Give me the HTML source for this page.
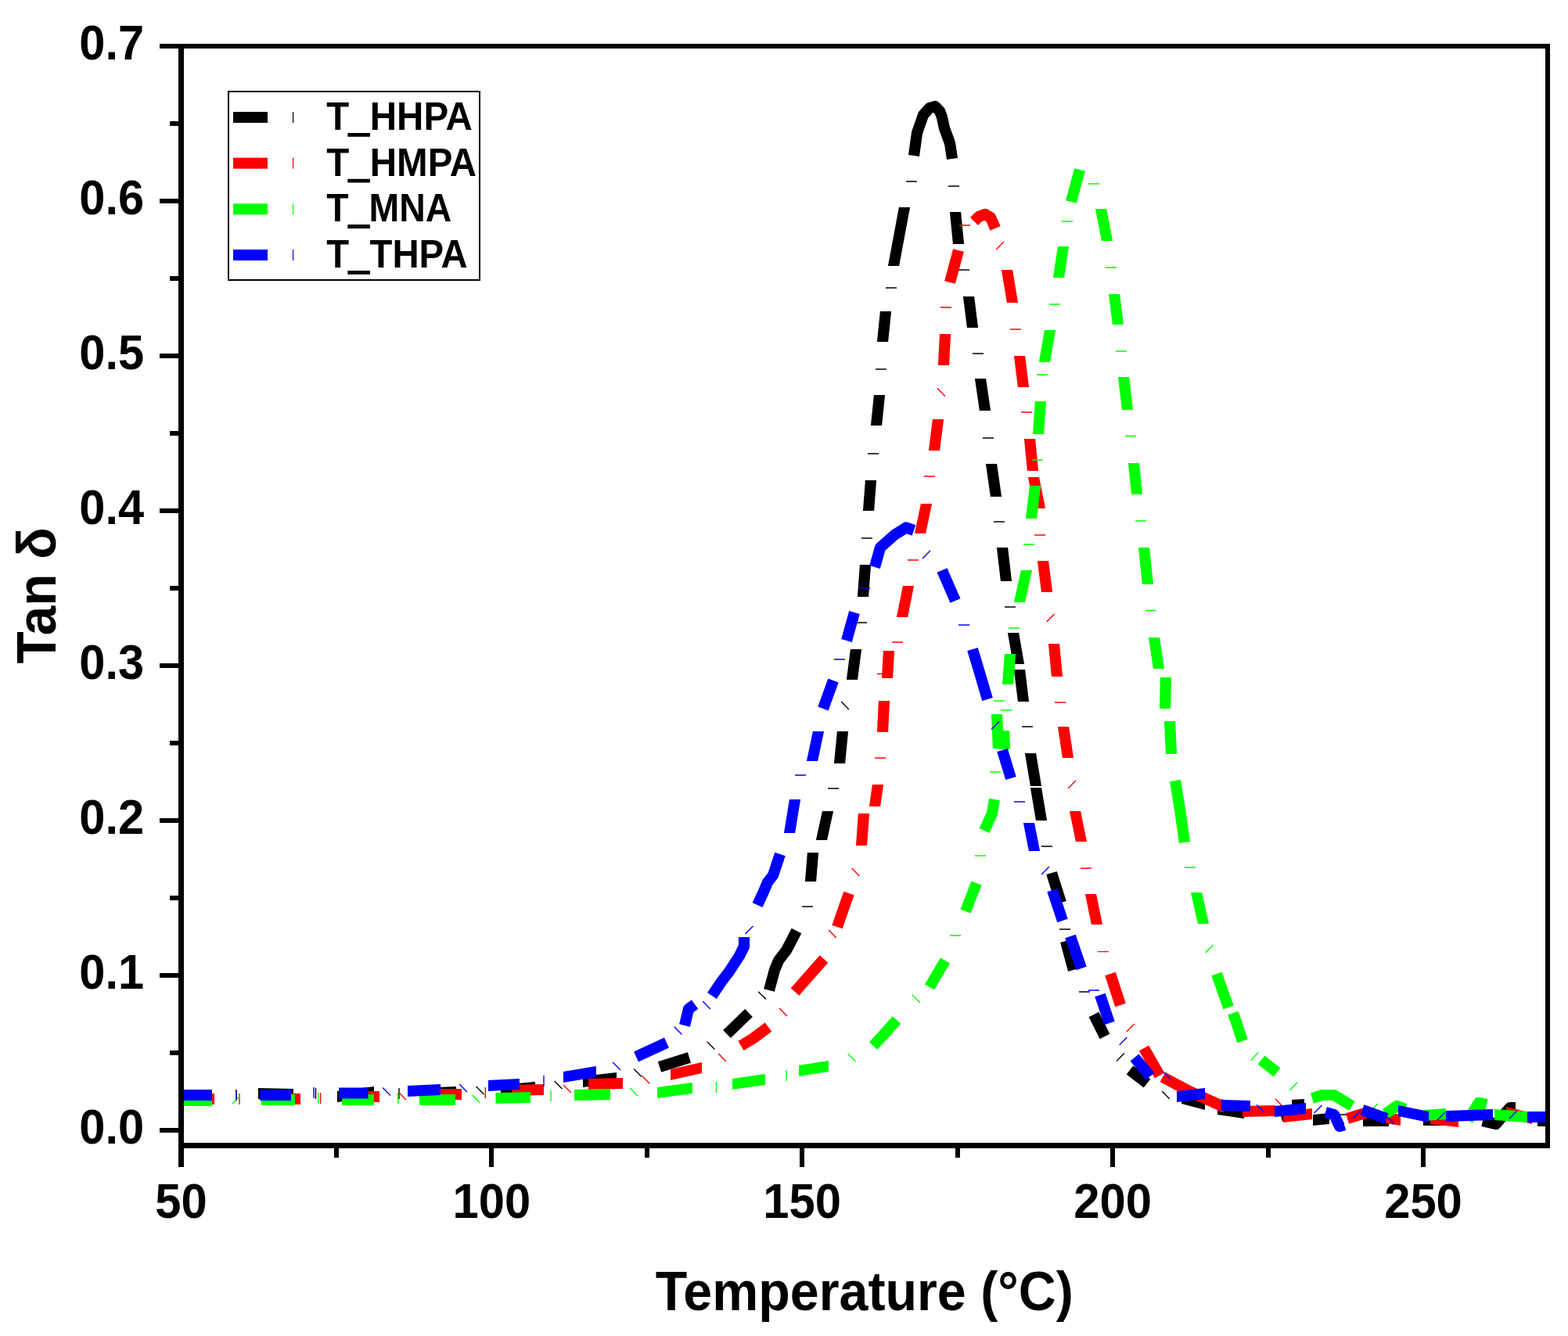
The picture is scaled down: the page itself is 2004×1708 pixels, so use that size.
<!DOCTYPE html>
<html><head><meta charset="utf-8"><title>Tan delta vs Temperature</title>
<style>html,body{margin:0;padding:0;background:#fff;}svg{display:block;}</style>
</head><body>
<svg width="2004" height="1708" viewBox="0 0 2004 1708">
<rect width="100%" height="100%" fill="#fff"/>
<defs><clipPath id="pc"><rect x="235" y="62" width="1740" height="1399"/></clipPath></defs>
<g clip-path="url(#pc)">
<path d="M222 1392.9L222 1407.1L271 1407.1L271 1392.9ZM330 1390.9L330 1405.1L375 1406.1L375 1391.9ZM431 1394.9L431 1409.1L478 1403.1L478 1388.9ZM539 1390.9L539 1405.1L583 1403.1L583 1388.9ZM640 1386.9L640 1401.1L684 1397.1L684 1382.9ZM745 1375.9L745 1390.1L788 1385.1L788 1370.9ZM845.1 1370.8L840.9 1357.2L878.9 1345.2L883.1 1358.8ZM933.9 1327.1L924.1 1316.9L952.1 1289.9L961.9 1300.1ZM1028.9 1127L1043.1 1127L1046.1 1090L1031.9 1090ZM1042.9 1074L1057.1 1074L1065.1 1037L1050.9 1037ZM1065.9 976L1080.1 976L1084.1 935L1069.9 935ZM1081.9 869L1096.1 869L1101.1 830L1086.9 830ZM1095.9 763L1110.1 763L1113.1 722L1098.9 722ZM1102.9 653L1117.1 653L1120.1 614L1105.9 614ZM1112.9 544L1127.1 544L1131.1 505L1116.9 505ZM1120.9 437L1135.1 437L1139.1 398L1124.9 398ZM1134.9 340L1149.1 340L1163.1 265L1148.9 265ZM1213.9 271L1228.1 271L1232.1 312L1217.9 312ZM1230.9 379L1245.1 379L1250.1 419L1235.9 419ZM1245.9 484L1260.1 484L1266.1 525L1251.9 525ZM1259.9 593L1274.1 593L1280.1 635L1265.9 635ZM1273.9 700L1288.1 700L1293.1 743L1278.9 743ZM1287.9 809L1302.1 809L1309.1 849L1294.9 849ZM1295.9 856L1310.1 856L1315.1 897L1300.9 897ZM1309.9 963L1324.1 963L1331.1 1005L1316.9 1005ZM1316.9 1007L1331.1 1007L1338.1 1049L1323.9 1049ZM1337.2 1118.1L1350.8 1113.9L1362.8 1151.9L1349.2 1156.1ZM1355.1 1204.9L1368.9 1201.1L1378.9 1238.1L1365.1 1241.9ZM1391.6 1300.2L1404.4 1293.8L1418.4 1321.8L1405.6 1328.2ZM1439.7 1373.6L1448.3 1362.4L1470.3 1379.4L1461.7 1390.6ZM1510 1396.9L1510 1411.1L1540 1419.1L1540 1404.9ZM1556 1410.9L1556 1425.1L1590 1430.1L1590 1415.9ZM1639 1433.8L1635 1420.2L1666 1411.2L1670 1424.8ZM1651 1405.9L1651 1420.1L1667 1419.1L1667 1404.9ZM1678 1424.9L1678 1439.1L1699 1437.1L1699 1422.9ZM1742 1425.9L1742 1440.1L1775 1440.1L1775 1425.9ZM1819 1424.9L1819 1439.1L1848 1439.1L1848 1424.9ZM1965 1425.9L1965 1440.1L1985 1440.1L1985 1425.9Z" fill="#000000"/>
<path d="M983 1266 990 1240 995 1228 1005 1215 1018 1190M1168 199 1172 170 1180 147 1188 138 1195 136 1201 142 1204 150 1207 164 1214 183 1217 203M1895 1433 1912 1437 1922 1425 1930 1416 1937 1416" fill="none" stroke="#000000" stroke-width="14.2" stroke-linejoin="round"/>
<path d="M302 1393L302 1407M403.5 1391L403.5 1405M510 1391L510 1405M608.6 1389.1L618.4 1398.9M708.6 1382.1L718.4 1391.9M810.1 1366.6L819.9 1376.4M903.7 1331.8L913.5 1341.6M969.1 1267.7L978.9 1277.5M1025 1159L1039 1159M1058 1008L1072 1008M1075.1 897.1L1084.9 906.9M1094 796L1108 796M1101 688L1115 688M1109 580L1123 580M1119 472L1133 472M1132 368L1146 368M1158 232L1172 232M1212 238L1226 238M1225 345L1239 345M1243 452L1257 452M1256 560L1270 560M1270 667L1284 667M1284 776L1298 776M1306 929L1320 929M1331 1082L1345 1082M1354 1188L1368 1188M1379 1268L1393 1268M1427.1 1356.4L1436.9 1346.6M1485.1 1395.1L1494.9 1404.9M1711 1425L1725 1425" fill="none" stroke="#000000" stroke-width="1.4"/>
<path d="M222 1397.9L222 1412.1L274 1412.1L274 1397.9ZM345 1397.9L345 1412.1L384 1412.1L384 1397.9ZM445 1394.9L445 1409.1L485 1409.1L485 1394.9ZM550 1391.9L550 1406.1L590 1406.1L590 1391.9ZM654 1386.9L654 1401.1L695 1400.1L695 1385.9ZM752 1378.9L752 1393.1L796 1392.1L796 1377.9ZM857 1366.9L857 1381.1L897 1372.1L897 1357.9ZM1021.3 1272.7L1010.7 1263.3L1047.7 1221.3L1058.3 1230.7ZM1076.7 1187.3L1063.3 1182.7L1078.3 1139.7L1091.7 1144.3ZM1093.9 1081L1108.1 1081L1111.1 1040L1096.9 1040ZM1110.9 1031L1125.1 1031L1129.1 1003L1114.9 1003ZM1120.9 936L1135.1 936L1137.1 896L1122.9 896ZM1126.9 867L1141.1 867L1143.1 832L1128.9 832ZM1145.9 789L1160.1 789L1168.1 749L1153.9 749ZM1168.9 682L1183.1 682L1191.1 644L1176.9 644ZM1186.9 576L1201.1 576L1206.1 536L1191.9 536ZM1198.9 467L1213.1 467L1215.1 427L1200.9 427ZM1220.9 362.8L1207.1 359.2L1218.1 318.2L1231.9 321.8ZM1279.9 345L1294.1 345L1301.1 387L1286.9 387ZM1295.9 455L1310.1 455L1315.1 495L1300.9 495ZM1308.9 561L1323.1 561L1327.1 602L1312.9 602ZM1313.9 610L1328.1 610L1336.1 650L1321.9 650ZM1325.9 717L1340.1 717L1345.1 757L1330.9 757ZM1339.9 823L1354.1 823L1358.1 865L1343.9 865ZM1351.9 929L1366.1 929L1372.1 969L1357.9 969ZM1366.9 1037L1381.1 1037L1389.1 1076L1374.9 1076ZM1386.9 1143L1401.1 1143L1409.1 1182L1394.9 1182ZM1412.2 1247.2L1425.8 1242.8L1438.8 1282.8L1425.2 1287.2ZM1455.8 1343.5L1468.2 1336.5L1488.2 1371.5L1475.8 1378.5ZM1588 1413.9L1588 1428.1L1630 1427.1L1630 1412.9ZM1640 1420.9L1640 1435.1L1677 1431.1L1677 1416.9ZM1724.1 1436.8L1719.9 1423.2L1745.9 1415.2L1750.1 1428.8ZM1771 1421.9L1771 1436.1L1790 1439.1L1790 1424.9ZM1828 1422.9L1828 1437.1L1864 1441.1L1864 1426.9ZM1925 1414.9L1925 1429.1L1958 1437.1L1958 1422.9Z" fill="#ff0000"/>
<path d="M947 1337 962 1328 982 1313M1245 283 1251 277 1259 274 1266 278 1270 287 1272 292M1486 1377 1520 1395 1566 1416" fill="none" stroke="#ff0000" stroke-width="14.2" stroke-linejoin="round"/>
<path d="M306 1398L306 1412M409.6 1397L409.6 1411M509.1 1396.1L518.9 1405.9M620.3 1390L620.3 1404M720.1 1387.1L729.9 1396.9M820.6 1375.6L830.4 1385.4M918.1 1347.1L927.9 1356.9M996.1 1289.1L1005.9 1298.9M1059.1 1189.1L1068.9 1198.9M1088.6 1110.1L1098.4 1119.9M1118 969L1132 969M1121 861.5L1135 861.5M1140 821L1154 821M1160 716L1174 716M1181 609L1195 609M1198.1 496.6L1207.9 506.4M1202 393L1216 393M1226 288L1240 288M1273.1 318.9L1282.9 309.1M1291 421L1305 421M1305 527L1319 527M1322 684L1336 684M1337.6 794.9L1347.4 785.1M1348 898L1362 898M1365.1 1007.9L1374.9 998.1M1381 1110L1395 1110M1403 1216.6L1417 1216.6M1439.8 1318.9L1449.6 1309.1M1630.1 1405.1L1639.9 1414.9" fill="none" stroke="#ff0000" stroke-width="1.4"/>
<path d="M222 1399.9L222 1414.1L271 1414.1L271 1399.9ZM334 1398.9L334 1413.1L377 1413.1L377 1398.9ZM437 1398.9L437 1413.1L478 1413.1L478 1398.9ZM536 1398.9L536 1413.1L582 1413.1L582 1398.9ZM633.5 1396.9L633.5 1411.1L678 1410.1L678 1395.9ZM734 1392.9L734 1407.1L780 1406.1L780 1391.9ZM840 1389.9L840 1404.1L885 1398.1L885 1383.9ZM936 1378.9L936 1393.1L978 1387.1L978 1372.9ZM1021 1361.9L1021 1376.1L1059 1370.1L1059 1355.9ZM1194.1 1265.6L1181.9 1258.4L1201.9 1224.4L1214.1 1231.6ZM1240.6 1167.6L1227.4 1162.4L1241.4 1126.4L1254.6 1131.6ZM1268.9 957L1283.1 957L1281.1 913L1266.9 913ZM1276.9 958L1291.1 958L1290.1 934L1275.9 934ZM1280.9 875L1295.1 875L1298.1 836L1283.9 836ZM1295.9 770L1310.1 770L1319.1 729L1304.9 729ZM1310.9 663L1325.1 663L1330.1 621L1315.9 621ZM1319.9 555L1334.1 555L1337.1 513L1322.9 513ZM1327.9 463L1342.1 463L1349.1 422L1334.9 422ZM1345.9 355L1360.1 355L1366.1 315L1351.9 315ZM1375.9 259.8L1362.1 256.2L1373.1 215.2L1386.9 218.8ZM1399.9 267L1414.1 267L1422.1 308L1407.9 308ZM1416.9 376L1431.1 376L1436.1 415L1421.9 415ZM1428.9 482L1443.1 482L1448.1 524L1433.9 524ZM1441.9 592L1456.1 592L1460.1 632L1445.9 632ZM1454.9 700L1469.1 700L1474.1 747L1459.9 747ZM1467.9 815L1482.1 815L1488.1 855L1473.9 855ZM1482.9 866L1497.1 866L1496.1 906L1481.9 906ZM1487.9 922L1502.1 922L1504.1 964L1489.9 964ZM1521.9 1141L1536.1 1141L1545.1 1181L1530.9 1181ZM1548.3 1247.3L1561.7 1242.7L1576.7 1285.7L1563.3 1290.3ZM1569.3 1297.2L1582.7 1292.8L1594.7 1328.8L1581.3 1333.2ZM1607.6 1360.5L1616.4 1349.5L1636.4 1365.5L1627.6 1376.5ZM1820 1418.9L1820 1433.1L1848 1431.1L1848 1416.9ZM1910 1417.9L1910 1432.1L1952 1435.1L1952 1420.9Z" fill="#00ff00"/>
<path d="M1116 1337 1130 1322 1146 1304M1258 1062 1268 1040 1271 1022M1502 998 1508 1035 1514 1077M1677 1404 1690 1400 1705 1400 1728 1414M1771 1424 1785 1414 1796 1418M1876 1432 1890 1410 1900 1412" fill="none" stroke="#00ff00" stroke-width="14.2" stroke-linejoin="round"/>
<path d="M297.1 1410.9L306.9 1401.1M407 1397L407 1411M508.7 1397L508.7 1411M603.6 1400.1L613.4 1409.9M704 1394L704 1408M805.1 1391.1L814.9 1400.9M915.5 1383L915.5 1397M1005 1368L1005 1382M1083.6 1347.1L1093.4 1356.9M1166.1 1272.1L1175.9 1281.9M1214 1196L1228 1196M1246 1094L1260 1094M1265 987L1279 987M1270 896L1284 896M1279 908L1293 908M1289 803L1303 803M1308 696L1322 696M1319 588L1333 588M1325 479L1339 479M1341 389L1355 389M1357 283L1371 283M1391 235L1405 235M1413 342L1427 342M1426 449L1440 449M1438 557.5L1452 557.5M1451 666L1465 666M1464 780.5L1478 780.5M1514 1109L1528 1109M1540.6 1217.9L1550.4 1208.1M1598.6 1355.4L1608.4 1345.6M1648.1 1393.9L1657.9 1384.1M1751.1 1420.9L1760.9 1411.1" fill="none" stroke="#00ff00" stroke-width="1.4"/>
<path d="M222 1392.9L222 1407.1L271 1407.1L271 1392.9ZM332 1392.9L332 1407.1L372 1407.1L372 1392.9ZM433 1390.4L433 1404.6L470.5 1404.6L470.5 1390.4ZM521 1387.9L521 1402.1L563 1400.1L563 1385.9ZM624 1380.9L624 1395.1L664 1393.1L664 1378.9ZM720 1369.9L720 1384.1L762 1377.1L762 1362.9ZM816 1357.4L810 1344.6L849 1326.6L855 1339.4ZM1001.9 1065L1016.1 1065L1023.1 1022L1008.9 1022ZM1030.9 973L1045.1 973L1053.1 935L1038.9 935ZM1058.7 908.4L1045.3 903.6L1058.3 867.6L1071.7 872.4ZM1088.8 820.9L1075.2 817.1L1085.2 781.1L1098.8 784.9ZM1197.5 731.8L1210.5 726.2L1227.5 765.2L1214.5 770.8ZM1274.2 961.1L1287.8 956.9L1298.8 992.9L1285.2 997.1ZM1307.9 1052L1322.1 1052L1329.1 1088L1314.9 1088ZM1338.3 1140.2L1351.7 1135.8L1364.7 1174.8L1351.3 1179.2ZM1361.3 1199.3L1374.7 1194.7L1388.7 1235.7L1375.3 1240.3ZM1399.3 1274.2L1412.7 1269.8L1424.7 1305.8L1411.3 1310.2ZM1444.5 1356.5L1455.5 1347.5L1475.5 1371.5L1464.5 1380.5ZM1504 1394.9L1504 1409.1L1540 1405.1L1540 1390.9ZM1561 1405.9L1561 1420.1L1598 1421.1L1598 1406.9ZM1629 1413.9L1629 1428.1L1669 1424.1L1669 1409.9ZM1738.6 1425.7L1743.4 1412.3L1774.4 1423.3L1769.6 1436.7ZM1787 1412.9L1787 1427.1L1826 1435.1L1826 1420.9ZM1848 1419.9L1848 1434.1L1908 1432.1L1908 1417.9ZM1952 1420.9L1952 1435.1L1985 1435.1L1985 1420.9Z" fill="#0000ff"/>
<path d="M875 1311 880 1290 888 1284M910 1273 922 1255 932 1242 945 1222 951 1210 951 1198M968 1157 976 1140 981 1128 988 1119 997 1092M1118 725 1125 700 1143 684 1158 674.5 1168 678M1243 830 1252 860 1262 894M1694 1422 1705 1425 1712 1440 1718 1438" fill="none" stroke="#0000ff" stroke-width="14.2" stroke-linejoin="round"/>
<path d="M302 1393L302 1407M401 1390L401 1404M489.1 1390.6L498.9 1400.4M587.1 1386.1L596.9 1395.9M695 1375L695 1389M783.1 1358.1L792.9 1367.9M861.6 1312.6L871.4 1322.4M898.1 1280.1L907.9 1289.9M952.6 1193.9L962.4 1184.1M1016 991L1030 991M1066 843L1080 843M1098 752L1112 752M1179.1 713.9L1188.9 704.1M1225 799L1239 799M1267.1 932.4L1276.9 922.6M1296 1025L1310 1025M1331.1 1117.9L1340.9 1108.1M1391 1266L1405 1266M1430.6 1335.9L1440.4 1326.1M1486.1 1369.7L1495.9 1379.5M1562 1405L1562 1419M1606.1 1412.6L1615.9 1422.4M1679.6 1422.9L1689.4 1413.1M1729.1 1429.9L1738.9 1420.1M1772.1 1427.1L1781.9 1436.9M1837.1 1431.9L1846.9 1422.1M1929.1 1429.9L1938.9 1420.1" fill="none" stroke="#0000ff" stroke-width="1.4"/>
</g>
<g fill="#000" shape-rendering="crispEdges">
<rect x="228" y="56" width="1753" height="6"/>
<rect x="228" y="56" width="7" height="1436"/>
<rect x="1975" y="56" width="6" height="1412"/>
<rect x="228" y="1461" width="1753" height="7"/>
<rect x="204" y="1442" width="24" height="6"/>
<rect x="204" y="1244" width="24" height="6"/>
<rect x="204" y="1046" width="24" height="6"/>
<rect x="204" y="848" width="24" height="6"/>
<rect x="204" y="650" width="24" height="6"/>
<rect x="204" y="452" width="24" height="6"/>
<rect x="204" y="254" width="24" height="6"/>
<rect x="204" y="56" width="24" height="6"/>
<rect x="217" y="1343" width="11" height="6"/>
<rect x="217" y="1145" width="11" height="6"/>
<rect x="217" y="947" width="11" height="6"/>
<rect x="217" y="749" width="11" height="6"/>
<rect x="217" y="551" width="11" height="6"/>
<rect x="217" y="353" width="11" height="6"/>
<rect x="217" y="155" width="11" height="6"/>
<rect x="625.4" y="1468" width="6" height="24"/>
<rect x="1022.2" y="1468" width="6" height="24"/>
<rect x="1419.1" y="1468" width="6" height="24"/>
<rect x="1816.0" y="1468" width="6" height="24"/>
<rect x="426.9" y="1468" width="6" height="12"/>
<rect x="823.8" y="1468" width="6" height="12"/>
<rect x="1220.7" y="1468" width="6" height="12"/>
<rect x="1617.6" y="1468" width="6" height="12"/>
</g>
<text font-family="Liberation Sans, Arial, sans-serif" font-weight="bold" font-size="62.6" transform="translate(101.3,1462.3) scale(0.952,1)">0.0</text>
<text font-family="Liberation Sans, Arial, sans-serif" font-weight="bold" font-size="62.6" transform="translate(101.3,1264.3) scale(0.952,1)">0.1</text>
<text font-family="Liberation Sans, Arial, sans-serif" font-weight="bold" font-size="62.6" transform="translate(101.3,1066.3) scale(0.952,1)">0.2</text>
<text font-family="Liberation Sans, Arial, sans-serif" font-weight="bold" font-size="62.6" transform="translate(101.3,868.3) scale(0.952,1)">0.3</text>
<text font-family="Liberation Sans, Arial, sans-serif" font-weight="bold" font-size="62.6" transform="translate(101.3,670.3) scale(0.952,1)">0.4</text>
<text font-family="Liberation Sans, Arial, sans-serif" font-weight="bold" font-size="62.6" transform="translate(101.3,472.3) scale(0.952,1)">0.5</text>
<text font-family="Liberation Sans, Arial, sans-serif" font-weight="bold" font-size="62.6" transform="translate(101.3,274.3) scale(0.952,1)">0.6</text>
<text font-family="Liberation Sans, Arial, sans-serif" font-weight="bold" font-size="62.6" transform="translate(101.3,76.3) scale(0.952,1)">0.7</text>
<text font-family="Liberation Sans, Arial, sans-serif" font-weight="bold" font-size="62.6" text-anchor="middle" transform="translate(231.5,1557.2) scale(0.955,1)">50</text>
<text font-family="Liberation Sans, Arial, sans-serif" font-weight="bold" font-size="62.6" text-anchor="middle" transform="translate(628.4,1557.2) scale(0.955,1)">100</text>
<text font-family="Liberation Sans, Arial, sans-serif" font-weight="bold" font-size="62.6" text-anchor="middle" transform="translate(1025.2,1557.2) scale(0.955,1)">150</text>
<text font-family="Liberation Sans, Arial, sans-serif" font-weight="bold" font-size="62.6" text-anchor="middle" transform="translate(1422.1,1557.2) scale(0.955,1)">200</text>
<text font-family="Liberation Sans, Arial, sans-serif" font-weight="bold" font-size="62.6" text-anchor="middle" transform="translate(1819.0,1557.2) scale(0.955,1)">250</text>
<text font-family="Liberation Sans, Arial, sans-serif" font-weight="bold" font-size="69.5" text-anchor="middle" transform="translate(1104.8,1675.4) scale(0.955,1)">Temperature (°C)</text>
<text font-family="Liberation Sans, Arial, sans-serif" font-weight="bold" font-size="69.8" text-anchor="middle" transform="translate(70.8,761.3) rotate(-90) scale(0.966,1)">Tan δ</text>
<rect x="292" y="117" width="321" height="241" fill="none" stroke="#000" stroke-width="2"/>
<rect x="298" y="143.00" width="44" height="14" fill="#000000"/>
<rect x="374" y="143.00" width="1.2" height="14" fill="#000000"/>
<text font-family="Liberation Sans, Arial, sans-serif" font-weight="bold" font-size="49.5" transform="translate(417.3,165.90) scale(0.96,1)">T_HHPA</text>
<rect x="444.3" y="170.10" width="28.7" height="4.7" fill="#000"/>
<rect x="298" y="201.67" width="44" height="14" fill="#ff0000"/>
<rect x="374" y="201.67" width="1.2" height="14" fill="#ff0000"/>
<text font-family="Liberation Sans, Arial, sans-serif" font-weight="bold" font-size="49.5" transform="translate(417.3,224.57) scale(0.96,1)">T_HMPA</text>
<rect x="444.3" y="228.77" width="28.7" height="4.7" fill="#000"/>
<rect x="298" y="260.34" width="44" height="14" fill="#00ff00"/>
<rect x="374" y="260.34" width="1.2" height="14" fill="#00ff00"/>
<text font-family="Liberation Sans, Arial, sans-serif" font-weight="bold" font-size="49.5" transform="translate(417.3,283.24) scale(0.938,1)">T_MNA</text>
<rect x="444.3" y="287.44" width="28.7" height="4.7" fill="#000"/>
<rect x="298" y="319.01" width="44" height="14" fill="#0000ff"/>
<rect x="374" y="319.01" width="1.2" height="14" fill="#0000ff"/>
<text font-family="Liberation Sans, Arial, sans-serif" font-weight="bold" font-size="49.5" transform="translate(417.3,341.91) scale(0.956,1)">T_THPA</text>
<rect x="444.3" y="346.11" width="28.7" height="4.7" fill="#000"/>
</svg>
</body></html>
